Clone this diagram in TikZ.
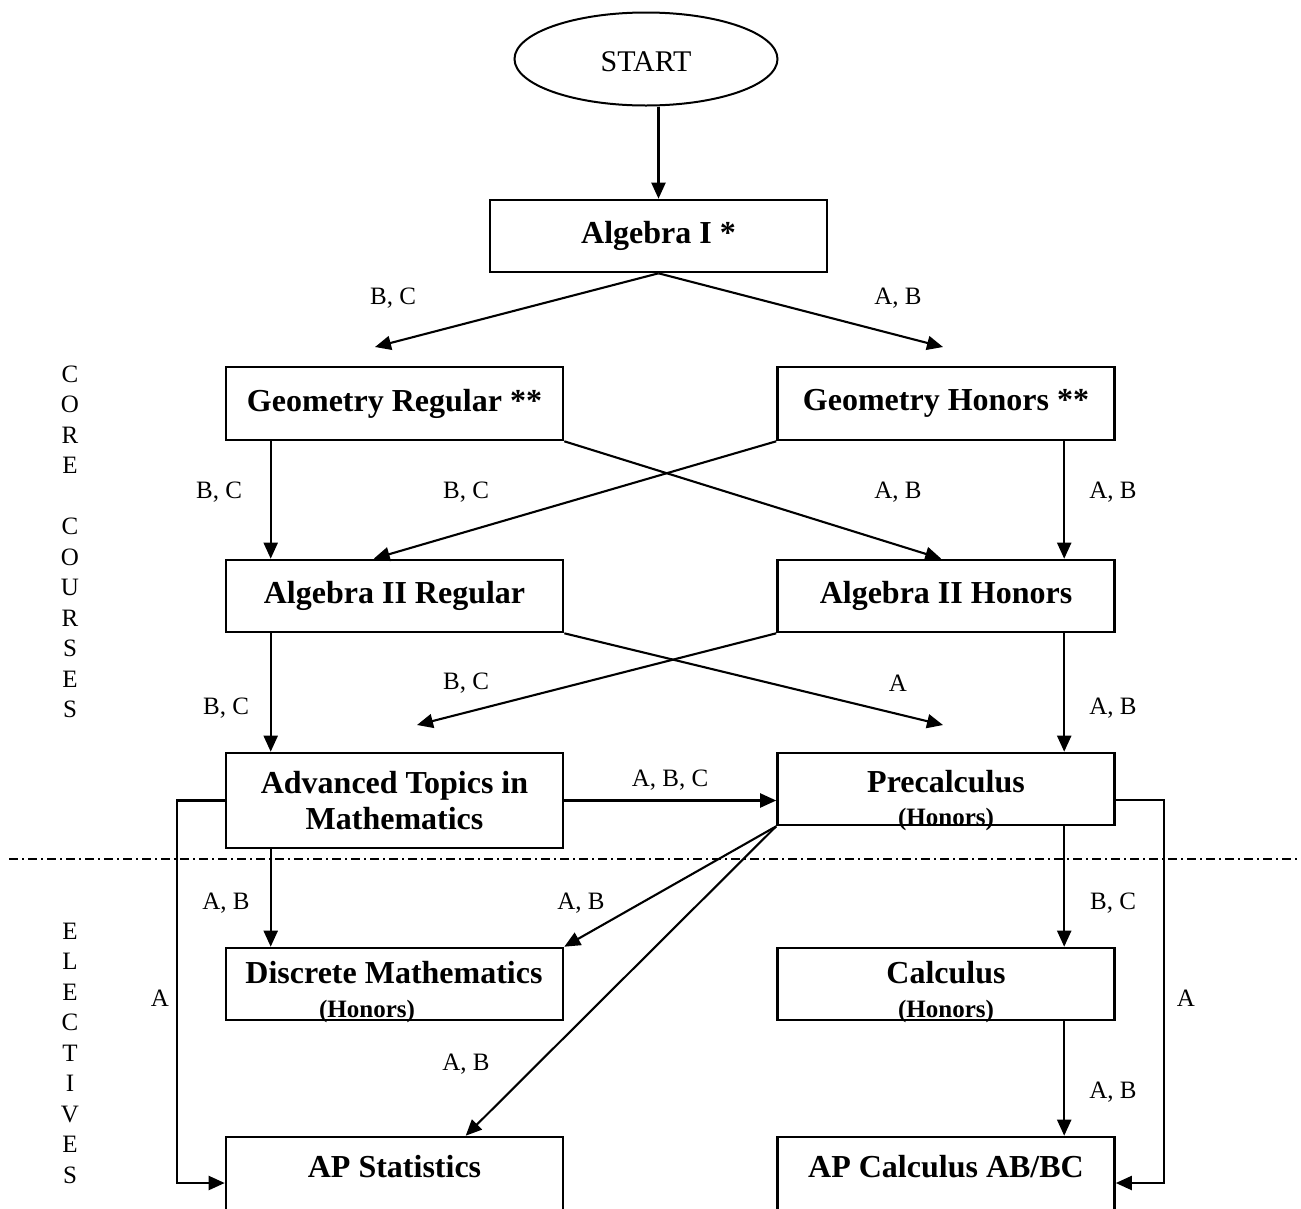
\documentclass[tikz,border=0pt]{standalone}
\usepackage{fontspec}
\setmainfont{Liberation Serif}
\usetikzlibrary{arrows.meta,shapes.geometric,calc}
\begin{document}
\begin{tikzpicture}[x=1pt,y=-1pt,
  box/.style={draw, line width=2.6pt, minimum width=337pt, minimum height=72pt, inner sep=0pt, font=\fontsize{32}{36}\selectfont\bfseries},
  btext/.style={font=\fontsize{32}{36}\selectfont\bfseries, inner sep=0pt},
  hon/.style={font=\fontsize{25}{28}\selectfont\bfseries, inner sep=0pt},
  lab/.style={font=\fontsize{25}{28}\selectfont, inner sep=0pt},
  side/.style={font=\fontsize{25}{30.5}\selectfont, inner sep=0pt, align=center},
  conn/.style={line width=2.1pt, -{Triangle[length=16pt,width=14pt]}},
]
\useasboundingbox (0,0) rectangle (1301,1208);
\clip (0,0) rectangle (1301,1208);
\fill[white] (0,0) rectangle (1301,1208);

% nodes
\node[draw, ellipse, line width=2pt, minimum width=263pt, minimum height=93pt, inner sep=0pt] (start) at (646,59) {};
\node[font=\fontsize{30}{34}\selectfont, inner sep=0pt] (startt) at (646,62) {START};
\node[box] (alg1) at (658.5,236) {Algebra I *};
\node[box, minimum height=73pt] (geor) at (394.5,403.5) {Geometry Regular **};
\node[box, minimum height=73pt] (geoh) at (946,403.5) {Geometry Honors **};
\node[box] (alg2r) at (394.5,596) {Algebra II Regular};
\node[box] (alg2h) at (946,596) {Algebra II Honors};
\node[box, minimum height=95pt, align=center] (adv) at (394.5,800.5) {Advanced Topics in\\Mathematics};
\node[box] (pre) at (946,789) {};
\node[btext] (pret) at (946,782) {Precalculus};
\node[hon] (preh) at (946,819) {(Honors)};
\node[box] (disc) at (394.5,984) {};
\node[btext] (disct) at (394,973) {Discrete Mathematics};
\node[hon] (disch) at (367,1011) {(Honors)};
\node[box] (calc) at (946,984) {};
\node[btext] (calct) at (946,973) {Calculus};
\node[hon] (calch) at (946,1011) {(Honors)};
\node[box, minimum height=92pt] (apstat) at (394.5,1183) {};
\node[btext] (apstatt) at (394.5,1167) {AP Statistics};
\node[box, minimum height=92pt] (apcalc) at (946,1183) {};
\node[btext] (apcalct) at (946,1167) {AP Calculus AB/BC};

% side texts
\node[side] (core) at (70,542) {C\\O\\R\\E\\[30.5pt]C\\O\\U\\R\\S\\E\\S};
\node[side] (elect) at (70,1053) {E\\L\\E\\C\\T\\I\\V\\E\\S};

% divider
\coordinate (dl) at (9,859);
\coordinate (dr) at (1301,859);
\draw[line width=1.3pt, dash pattern=on 9pt off 4pt on 2pt off 4pt] (dl) -- (dr);

% free ends
\coordinate (e1) at (375,347);
\coordinate (e2) at (943,347);
\coordinate (e3) at (943,725);
\coordinate (e4) at (417,725);

% connectors
\draw[conn] (start.south -| alg1.north) -- (alg1.north);
\draw[conn] (alg1.south) -- (e1);
\draw[conn] (alg1.south) -- (e2);

\draw[conn] ($(geor.south west)+(46,0)$) -- ($(alg2r.north west)+(46,0)$);
\draw[conn] (geor.south east) -- ($(alg2h.north west)+(165,0)$);
\draw[conn] (geoh.south west) -- ($(alg2r.north west)+(149,0)$);
\draw[conn] ($(geoh.south west)+(288,0)$) -- ($(alg2h.north west)+(288,0)$);

\draw[conn] ($(alg2r.south west)+(46,0)$) -- ($(adv.north west)+(46,0)$);
\draw[conn] (alg2r.south east) -- (e3);
\draw[conn] (alg2h.south west) -- (e4);
\draw[conn] ($(alg2h.south west)+(288,0)$) -- ($(pre.north west)+(288,0)$);

\draw[conn] (adv.east) -- (adv.east -| pre.west);
\draw[conn] (adv.west) -- ++(-48,0) |- (apstat.west);
\draw[conn] ($(adv.south west)+(46,0)$) -- ($(disc.north west)+(46,0)$);
\draw[conn] (pre.south west) -- (disc.north east);
\draw[conn] (pre.south west) -- ($(apstat.north west)+(241,0)$);
\draw[conn] ($(pre.south west)+(288,0)$) -- ($(calc.north west)+(288,0)$);
\draw[conn] ($(pre.north east)+(0,48)$) -- ++(48,0) |- (apcalc.east);
\draw[conn] ($(calc.south west)+(288,0)$) -- ($(apcalc.north west)+(288,0)$);

% labels
\node[lab] (l1) at (393,298) {B, C};
\node[lab] (l2) at (898,298) {A, B};
\node[lab] (l3) at (219,492) {B, C};
\node[lab] (l4) at (466,492) {B, C};
\node[lab] (l5) at (898,492) {A, B};
\node[lab] (l6) at (1113,492) {A, B};
\node[lab] (l7) at (226,708) {B, C};
\node[lab] (l8) at (466,683) {B, C};
\node[lab] (l9) at (898,683) {A};
\node[lab] (l10) at (1113,708) {A, B};
\node[lab] (l11) at (670,780) {A, B, C};
\node[lab] (l12) at (226,903) {A, B};
\node[lab] (l13) at (581,903) {A, B};
\node[lab] (l14) at (1113,903) {B, C};
\node[lab] (l15) at (160,998) {A};
\node[lab] (l16) at (1186,998) {A};
\node[lab] (l17) at (466,1064) {A, B};
\node[lab] (l18) at (1113,1092) {A, B};
\end{tikzpicture}
\end{document}
